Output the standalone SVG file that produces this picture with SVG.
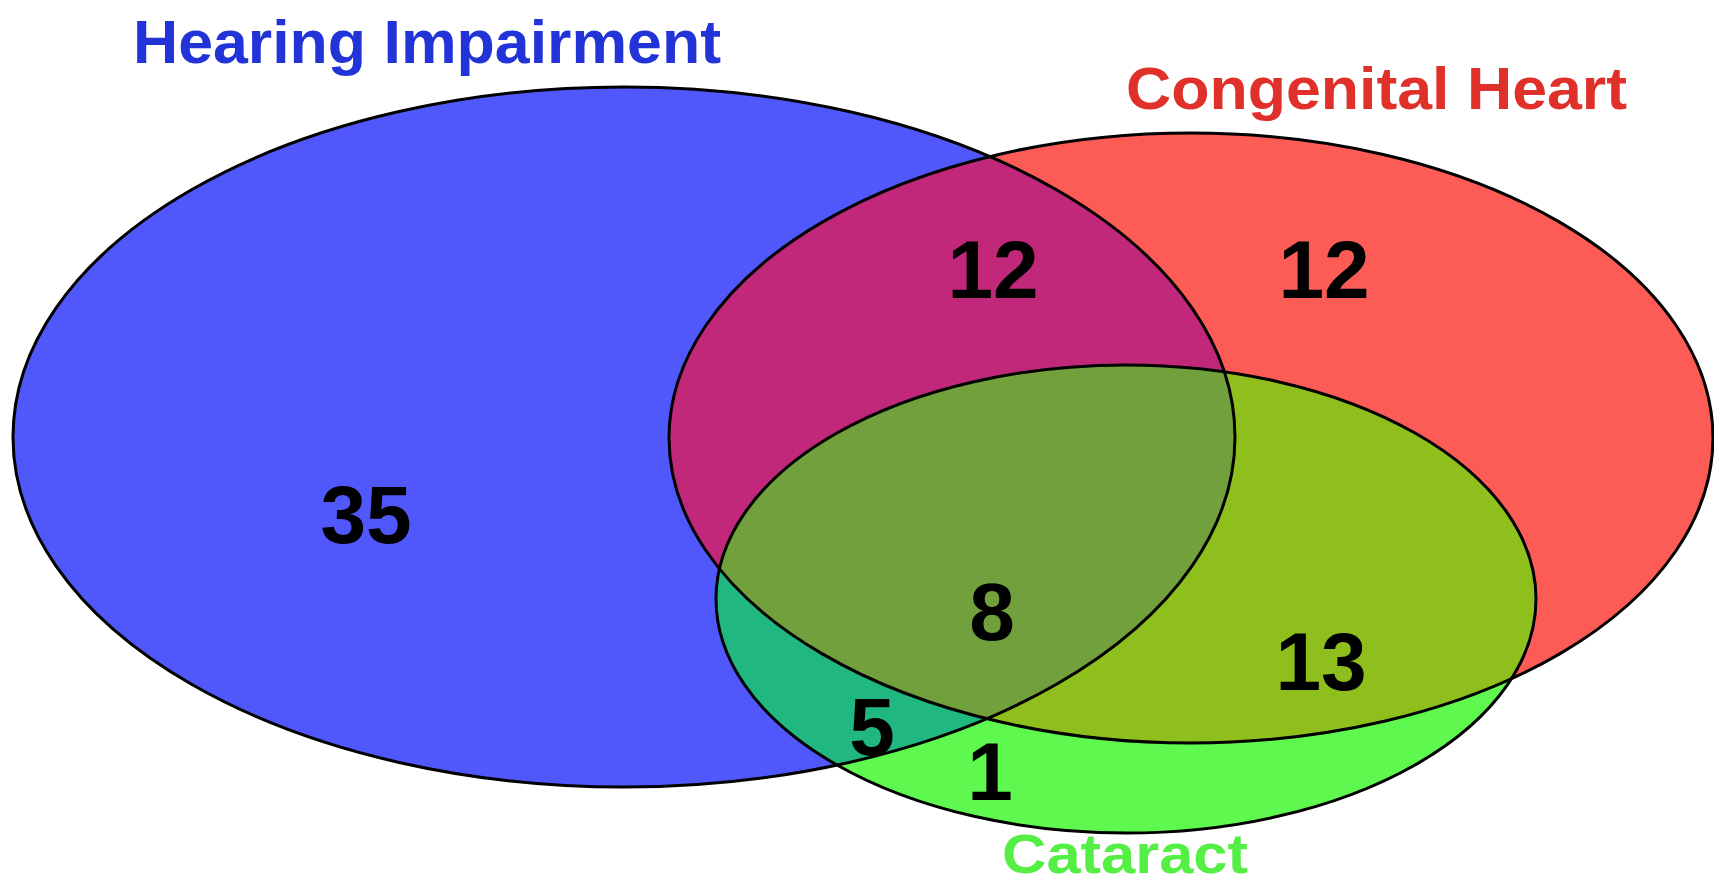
<svg xmlns="http://www.w3.org/2000/svg" width="1714" height="886" viewBox="0 0 1714 886">
<style>
.lbl{font-family:"Liberation Sans",Arial,sans-serif;font-weight:bold;}
.num{font-family:"Liberation Sans",Arial,sans-serif;font-weight:bold;font-size:82px;fill:#000;text-anchor:middle;}
.outline{fill:none;stroke:#000;stroke-width:3;}
</style>
<defs>
<ellipse id="eb" cx="624" cy="437" rx="611" ry="350"/>
<ellipse id="er" cx="1191" cy="438" rx="522" ry="305"/>
<ellipse id="eg" cx="1126" cy="599" rx="410" ry="234"/>
<clipPath id="cb"><use href="#eb"/></clipPath>
<clipPath id="cr"><use href="#er"/></clipPath>
</defs>
<rect width="1714" height="886" fill="#fff"/>
<g id="hearing">
<use href="#eb" fill="#5058fc"/>
</g>
<g id="heart">
<use href="#er" fill="#fd5b56"/>
<use href="#er" fill="#c1287a" clip-path="url(#cb)"/>
</g>
<g id="cataract">
<use href="#eg" fill="#5ff84f"/>
<use href="#eg" fill="#20b880" clip-path="url(#cb)"/>
<use href="#eg" fill="#8fbf1c" clip-path="url(#cr)"/>
<g clip-path="url(#cb)"><use href="#eg" fill="#72a03c" clip-path="url(#cr)"/></g>
</g>
<g id="outlines">
<use href="#eb" class="outline"/>
<use href="#er" class="outline"/>
<use href="#eg" class="outline"/>
</g>
<g id="labels">
<text class="lbl" x="133" y="63" font-size="61" fill="#2233d8" textLength="588" lengthAdjust="spacingAndGlyphs">Hearing Impairment</text>
<text class="lbl" x="1126" y="109" font-size="60" fill="#e0302a" textLength="501" lengthAdjust="spacingAndGlyphs">Congenital Heart</text>
<text class="lbl" x="1002" y="873" font-size="56" fill="#55ee45" textLength="246" lengthAdjust="spacingAndGlyphs">Cataract</text>
</g>
<g id="counts">
<text class="num" x="993" y="298">12</text>
<text class="num" x="1324" y="298">12</text>
<text class="num" x="366" y="543">35</text>
<text class="num" x="992" y="640">8</text>
<text class="num" x="1321" y="690">13</text>
<text class="num" x="872" y="755">5</text>
<text class="num" x="990" y="800">1</text>
</g>
</svg>
